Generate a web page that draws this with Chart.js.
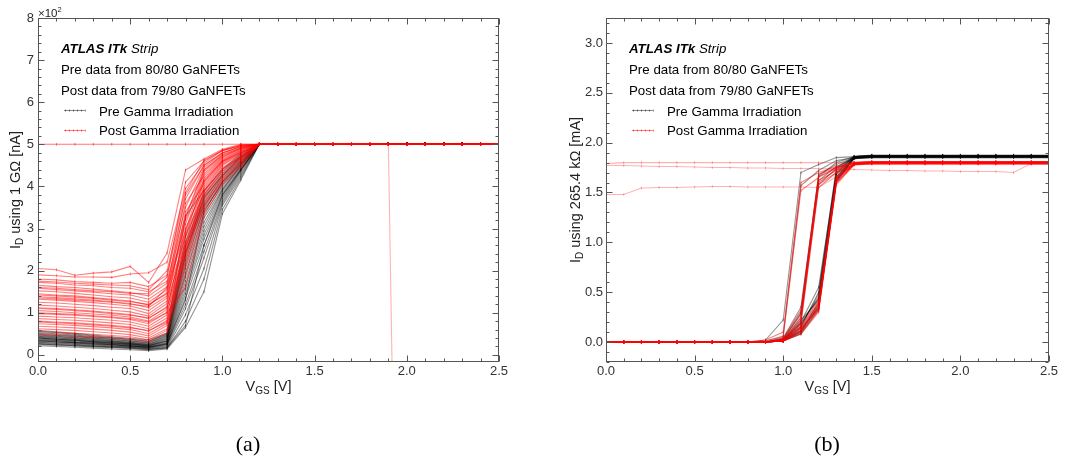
<!DOCTYPE html>
<html>
<head>
<meta charset="utf-8">
<script src="https://cdn.jsdelivr.net/npm/chart.js@4.4.0/dist/chart.umd.min.js"></script>
<style>
  html, body { margin: 0; padding: 0; background: #fff; }
  body { width: 1085px; height: 459px; position: relative; overflow: hidden; }
  canvas { position: absolute; top: 0; }
  #chart-a { left: 0; }
  #chart-b { left: 540px; }
</style>
</head>
<body>
<canvas id="chart-a" width="515" height="459"></canvas>
<canvas id="chart-b" width="525" height="459"></canvas>
<script>
// V_GS sweep points (V)
const vgs = [0, 0.1, 0.2, 0.3, 0.4, 0.5, 0.6, 0.7, 0.8, 0.9, 1.0, 1.1, 1.2, 1.3,
  1.4, 1.5, 1.6, 1.7, 1.8, 1.9, 2.0, 2.1, 2.2, 2.3, 2.4, 2.5];
const xTicks = [0, 0.5, 1.0, 1.5, 2.0, 2.5];
const yTicksA = [0, 1, 2, 3, 4, 5, 6, 7, 8];
const yTicksB = [0, 0.5, 1.0, 1.5, 2.0, 2.5, 3.0];

// (a) I_D through 1 GOhm, units of 1e2 nA. Heads = V_GS 0.0..1.2, tails = 1.3..2.5
const preHeadsA = [
  [0.22, 0.20, 0.18, 0.16, 0.14, 0.12, 0.10, 0.14, 0.65, 1.50, 3.35, 4.15, 5.0],
  [0.25, 0.23, 0.21, 0.19, 0.17, 0.15, 0.12, 0.16, 0.80, 1.80, 3.45, 4.20, 5.0],
  [0.27, 0.25, 0.23, 0.21, 0.19, 0.17, 0.14, 0.18, 0.95, 2.05, 3.55, 4.25, 5.0],
  [0.29, 0.27, 0.25, 0.22, 0.20, 0.18, 0.15, 0.20, 1.10, 2.30, 3.60, 4.30, 5.0],
  [0.30, 0.28, 0.26, 0.24, 0.21, 0.19, 0.16, 0.22, 1.20, 2.45, 3.65, 4.35, 5.0],
  [0.32, 0.30, 0.28, 0.25, 0.23, 0.20, 0.17, 0.24, 1.35, 2.60, 3.70, 4.38, 5.0],
  [0.33, 0.31, 0.29, 0.26, 0.24, 0.21, 0.18, 0.25, 1.45, 2.75, 3.75, 4.40, 5.0],
  [0.35, 0.33, 0.30, 0.28, 0.25, 0.22, 0.18, 0.27, 1.55, 2.85, 3.80, 4.42, 5.0],
  [0.36, 0.34, 0.31, 0.29, 0.26, 0.23, 0.19, 0.28, 1.65, 2.95, 3.85, 4.45, 5.0],
  [0.38, 0.35, 0.33, 0.30, 0.27, 0.24, 0.20, 0.30, 1.75, 3.05, 3.90, 4.48, 5.0],
  [0.39, 0.37, 0.34, 0.31, 0.28, 0.25, 0.21, 0.32, 1.85, 3.15, 3.92, 4.50, 5.0],
  [0.41, 0.38, 0.35, 0.32, 0.29, 0.26, 0.22, 0.34, 1.95, 3.25, 3.95, 4.52, 5.0],
  [0.42, 0.40, 0.37, 0.34, 0.31, 0.27, 0.23, 0.36, 2.05, 3.35, 4.00, 4.55, 5.0],
  [0.44, 0.41, 0.38, 0.35, 0.32, 0.28, 0.24, 0.38, 2.15, 3.45, 4.05, 4.58, 5.0],
  [0.45, 0.43, 0.40, 0.37, 0.33, 0.29, 0.25, 0.40, 2.25, 3.50, 4.10, 4.60, 5.0],
  [0.47, 0.44, 0.41, 0.38, 0.34, 0.30, 0.26, 0.42, 2.35, 3.55, 4.15, 4.62, 5.0],
  [0.49, 0.46, 0.43, 0.40, 0.36, 0.32, 0.28, 0.44, 2.45, 3.60, 4.20, 4.65, 5.0],
  [0.51, 0.48, 0.45, 0.41, 0.37, 0.33, 0.29, 0.46, 2.55, 3.65, 4.25, 4.68, 5.0],
  [0.53, 0.50, 0.47, 0.43, 0.39, 0.35, 0.31, 0.48, 2.65, 3.70, 4.30, 4.72, 5.0],
  [0.56, 0.53, 0.49, 0.45, 0.41, 0.37, 0.33, 0.50, 2.80, 3.80, 4.35, 4.75, 5.0],
  [0.58, 0.55, 0.51, 0.47, 0.43, 0.39, 0.36, 0.52, 3.30, 3.90, 4.40, 4.78, 5.0],
  [0.26, 0.24, 0.22, 0.20, 0.18, 0.16, 0.13, 0.17, 0.70, 2.60, 3.80, 4.40, 5.0],
  [0.34, 0.31, 0.29, 0.27, 0.24, 0.21, 0.18, 0.26, 1.30, 3.40, 4.10, 4.55, 5.0],
  [0.40, 0.37, 0.35, 0.32, 0.29, 0.26, 0.22, 0.33, 2.40, 3.75, 4.25, 4.70, 5.0],
];
const preTailA = [5.0, 5.0, 5.0, 5.0, 5.0, 5.0, 5.02, 5.02, 5.02, 5.02, 5.02, 5.01, 5.0];

const postHeadsA = [
  [2.05, 2.02, 1.89, 1.94, 1.97, 2.10, 1.72, 2.42, 4.39, 4.65, 4.88, 5.00, 5.0],
  [1.90, 1.88, 1.85, 1.85, 1.84, 1.92, 1.95, 2.20, 3.95, 4.55, 4.85, 4.98, 5.0],
  [1.80, 1.78, 1.74, 1.72, 1.70, 1.72, 1.62, 1.90, 3.70, 4.50, 4.80, 4.95, 5.0],
  [1.72, 1.70, 1.66, 1.64, 1.60, 1.58, 1.50, 1.75, 3.50, 4.45, 4.78, 4.95, 5.0],
  [1.65, 1.62, 1.60, 1.56, 1.52, 1.48, 1.40, 1.70, 3.30, 4.40, 4.75, 4.92, 5.0],
  [1.58, 1.55, 1.52, 1.49, 1.45, 1.42, 1.32, 1.62, 3.10, 4.35, 4.72, 4.90, 5.0],
  [1.52, 1.50, 1.46, 1.42, 1.38, 1.35, 1.25, 1.55, 2.95, 4.30, 4.70, 4.90, 5.0],
  [1.45, 1.42, 1.40, 1.36, 1.32, 1.28, 1.18, 1.48, 3.60, 4.25, 4.68, 4.88, 5.0],
  [1.38, 1.36, 1.33, 1.30, 1.26, 1.22, 1.12, 1.40, 2.80, 4.20, 4.65, 4.86, 5.0],
  [1.32, 1.30, 1.27, 1.24, 1.20, 1.16, 1.05, 1.35, 3.20, 4.15, 4.62, 4.85, 5.0],
  [1.25, 1.23, 1.20, 1.17, 1.13, 1.10, 0.98, 1.28, 2.65, 4.10, 4.60, 4.82, 5.0],
  [1.18, 1.16, 1.13, 1.10, 1.06, 1.02, 0.92, 1.22, 3.40, 4.05, 4.58, 4.80, 5.0],
  [1.12, 1.10, 1.07, 1.04, 1.00, 0.96, 0.86, 1.15, 2.50, 4.00, 4.55, 4.80, 5.0],
  [1.05, 1.03, 1.00, 0.97, 0.94, 0.90, 0.80, 1.08, 3.00, 3.95, 4.52, 4.78, 5.0],
  [0.98, 0.96, 0.94, 0.91, 0.88, 0.84, 0.74, 1.02, 2.40, 3.90, 4.50, 4.75, 5.0],
  [0.92, 0.90, 0.88, 0.85, 0.82, 0.78, 0.68, 0.95, 2.85, 3.85, 4.45, 4.72, 5.0],
  [0.86, 0.84, 0.82, 0.79, 0.76, 0.72, 0.62, 0.88, 2.30, 3.80, 4.40, 4.70, 5.0],
  [0.80, 0.78, 0.76, 0.73, 0.70, 0.66, 0.56, 0.82, 2.70, 3.75, 4.35, 4.68, 5.0],
  [0.74, 0.72, 0.70, 0.67, 0.64, 0.60, 0.50, 0.75, 2.20, 3.70, 4.30, 4.65, 5.0],
  [0.68, 0.66, 0.64, 0.61, 0.58, 0.54, 0.45, 0.70, 2.60, 3.60, 4.25, 4.62, 5.0],
  [0.62, 0.60, 0.58, 0.55, 0.52, 0.48, 0.40, 0.62, 2.10, 3.50, 4.20, 4.60, 5.0],
  [0.55, 0.53, 0.51, 0.49, 0.46, 0.43, 0.36, 0.58, 2.45, 3.55, 4.15, 4.55, 5.0],
  [0.48, 0.46, 0.44, 0.42, 0.40, 0.37, 0.32, 0.52, 1.90, 3.40, 4.10, 4.50, 5.0],
  [1.60, 1.58, 1.55, 1.52, 1.50, 1.46, 1.45, 1.85, 4.10, 4.60, 4.85, 4.97, 5.0],
  [1.35, 1.33, 1.30, 1.28, 1.25, 1.20, 1.15, 1.60, 3.80, 4.50, 4.80, 4.94, 5.0],
  [1.00, 0.98, 0.96, 0.93, 0.90, 0.86, 0.78, 1.00, 1.60, 3.30, 4.05, 4.45, 5.0],
  [1.75, 1.73, 1.70, 1.68, 1.66, 1.64, 1.55, 2.00, 3.85, 4.62, 4.86, 4.97, 5.0],
  [1.42, 1.40, 1.37, 1.34, 1.30, 1.26, 1.20, 1.45, 3.25, 4.38, 4.74, 4.91, 5.0],
  [1.10, 1.08, 1.05, 1.02, 0.98, 0.94, 0.88, 1.12, 2.90, 4.12, 4.60, 4.83, 5.0],
  [0.78, 0.76, 0.74, 0.71, 0.68, 0.64, 0.58, 0.78, 2.55, 3.88, 4.42, 4.70, 5.0],
];
const postTailA = [5.0, 5.0, 5.0, 5.0, 5.0, 5.0, 5.0, 5.0, 5.0, 5.0, 5.0, 5.0, 5.0];
// devices stuck at the 5e2 nA ceiling; one drops out of range after 1.9 V
const postStuckA = [
  [5, 5, 5, 5, 5, 5, 5, 5, 5, 5, 5, 5, 5, 5, 5, 5, 5, 5, 5, 5, -21, -21, -21, -21, -21, -21],
  [5, 5, 5, 5, 5, 5, 5, 5, 5, 5, 5, 5, 5, 5, 5, 5, 5, 5, 5, 5, 5, 5, 5, 5, 5, 5],
];

// (b) I_D through 265.4 kOhm, mA. Lead = V_GS 0.0..0.8, rows = 0.9..2.5
const leadB = [0, 0, 0, 0, 0, 0, 0, 0, 0];
const preRowsB = [
  [0.02, 0.22, 1.70, 1.78, 1.85, 1.86, 1.87, 1.87, 1.87, 1.87, 1.87, 1.87, 1.87, 1.87, 1.87, 1.87, 1.87],
  [0.01, 0.06, 1.57, 1.72, 1.82, 1.85, 1.86, 1.86, 1.86, 1.86, 1.86, 1.86, 1.86, 1.86, 1.86, 1.86, 1.86],
  [0.00, 0.03, 0.30, 1.68, 1.78, 1.85, 1.86, 1.86, 1.86, 1.86, 1.86, 1.86, 1.86, 1.86, 1.86, 1.86, 1.86],
  [0.00, 0.02, 0.25, 1.62, 1.76, 1.84, 1.85, 1.85, 1.85, 1.85, 1.85, 1.85, 1.85, 1.85, 1.85, 1.85, 1.85],
  [0.00, 0.04, 0.35, 1.66, 1.80, 1.86, 1.87, 1.87, 1.87, 1.87, 1.87, 1.87, 1.87, 1.87, 1.87, 1.87, 1.87],
  [0.00, 0.01, 0.10, 0.40, 1.65, 1.85, 1.86, 1.86, 1.86, 1.86, 1.86, 1.86, 1.86, 1.86, 1.86, 1.86, 1.86],
  [0.00, 0.01, 0.15, 0.50, 1.70, 1.86, 1.87, 1.87, 1.87, 1.87, 1.87, 1.87, 1.87, 1.87, 1.87, 1.87, 1.87],
  [0.00, 0.02, 0.18, 0.45, 1.62, 1.84, 1.86, 1.86, 1.86, 1.86, 1.86, 1.86, 1.86, 1.86, 1.86, 1.86, 1.86],
  [0.00, 0.01, 0.12, 0.35, 1.60, 1.85, 1.86, 1.86, 1.86, 1.86, 1.86, 1.86, 1.86, 1.86, 1.86, 1.86, 1.86],
  [0.00, 0.01, 0.20, 0.55, 1.72, 1.86, 1.87, 1.87, 1.87, 1.87, 1.87, 1.87, 1.87, 1.87, 1.87, 1.87, 1.87],
  [0.00, 0.02, 0.22, 0.42, 1.68, 1.85, 1.86, 1.86, 1.86, 1.86, 1.86, 1.86, 1.86, 1.86, 1.86, 1.86, 1.86],
  [0.00, 0.01, 0.08, 0.32, 1.63, 1.84, 1.85, 1.85, 1.85, 1.85, 1.85, 1.85, 1.85, 1.85, 1.85, 1.85, 1.85],
  [0.00, 0.01, 0.14, 0.38, 1.66, 1.85, 1.86, 1.86, 1.86, 1.86, 1.86, 1.86, 1.86, 1.86, 1.86, 1.86, 1.86],
  [0.00, 0.03, 0.28, 1.58, 1.74, 1.85, 1.86, 1.86, 1.86, 1.86, 1.86, 1.86, 1.86, 1.86, 1.86, 1.86, 1.86],
  [0.00, 0.02, 0.16, 0.48, 1.75, 1.86, 1.87, 1.87, 1.87, 1.87, 1.87, 1.87, 1.87, 1.87, 1.87, 1.87, 1.87],
  [0.00, 0.01, 0.11, 0.36, 1.64, 1.85, 1.86, 1.86, 1.86, 1.86, 1.86, 1.86, 1.86, 1.86, 1.86, 1.86, 1.86],
  [0.00, 0.02, 0.19, 0.44, 1.69, 1.86, 1.875, 1.875, 1.875, 1.875, 1.875, 1.875, 1.875, 1.875, 1.875, 1.875, 1.875],
  [0.00, 0.01, 0.09, 0.34, 1.61, 1.84, 1.855, 1.855, 1.855, 1.855, 1.855, 1.855, 1.855, 1.855, 1.855, 1.855, 1.855],
];
const postRowsB = [
  [0.02, 0.10, 1.60, 1.70, 1.76, 1.79, 1.80, 1.80, 1.80, 1.80, 1.80, 1.80, 1.80, 1.80, 1.80, 1.80, 1.80],
  [0.01, 0.05, 1.52, 1.65, 1.75, 1.79, 1.80, 1.80, 1.80, 1.80, 1.80, 1.80, 1.80, 1.80, 1.80, 1.80, 1.80],
  [0.00, 0.02, 0.22, 1.62, 1.72, 1.79, 1.80, 1.80, 1.80, 1.80, 1.80, 1.80, 1.80, 1.80, 1.80, 1.80, 1.80],
  [0.00, 0.03, 0.28, 1.66, 1.74, 1.80, 1.81, 1.81, 1.81, 1.81, 1.81, 1.81, 1.81, 1.81, 1.81, 1.81, 1.81],
  [0.00, 0.02, 0.18, 1.55, 1.70, 1.78, 1.79, 1.79, 1.79, 1.79, 1.79, 1.79, 1.79, 1.79, 1.79, 1.79, 1.79],
  [0.00, 0.04, 0.32, 1.68, 1.75, 1.80, 1.81, 1.81, 1.81, 1.81, 1.81, 1.81, 1.81, 1.81, 1.81, 1.81, 1.81],
  [0.00, 0.01, 0.10, 0.32, 1.60, 1.78, 1.80, 1.80, 1.80, 1.80, 1.80, 1.80, 1.80, 1.80, 1.80, 1.80, 1.80],
  [0.00, 0.01, 0.12, 0.36, 1.62, 1.79, 1.80, 1.80, 1.80, 1.80, 1.80, 1.80, 1.80, 1.80, 1.80, 1.80, 1.80],
  [0.00, 0.02, 0.15, 0.40, 1.65, 1.79, 1.80, 1.80, 1.80, 1.80, 1.80, 1.80, 1.80, 1.80, 1.80, 1.80, 1.80],
  [0.00, 0.01, 0.08, 0.30, 1.58, 1.78, 1.79, 1.79, 1.79, 1.79, 1.79, 1.79, 1.79, 1.79, 1.79, 1.79, 1.79],
  [0.00, 0.01, 0.14, 0.34, 1.63, 1.80, 1.81, 1.81, 1.81, 1.81, 1.81, 1.81, 1.81, 1.81, 1.81, 1.81, 1.81],
  [0.00, 0.01, 0.11, 0.38, 1.66, 1.79, 1.80, 1.80, 1.80, 1.80, 1.80, 1.80, 1.80, 1.80, 1.80, 1.80, 1.80],
  [0.00, 0.02, 0.20, 1.58, 1.70, 1.78, 1.80, 1.80, 1.80, 1.80, 1.80, 1.80, 1.80, 1.80, 1.80, 1.80, 1.80],
  [0.00, 0.01, 0.13, 0.33, 1.60, 1.78, 1.80, 1.80, 1.80, 1.80, 1.80, 1.80, 1.80, 1.80, 1.80, 1.80, 1.80],
  [0.00, 0.01, 0.16, 0.42, 1.64, 1.78, 1.785, 1.785, 1.785, 1.785, 1.785, 1.785, 1.785, 1.785, 1.785, 1.785, 1.785],
  [0.00, 0.02, 0.24, 1.60, 1.73, 1.80, 1.805, 1.805, 1.805, 1.805, 1.805, 1.805, 1.805, 1.805, 1.805, 1.805, 1.805],
];
// post devices already conducting at V_GS = 0 (full sweep 0.0..2.5)
const postOnB = [
  [1.79, 1.80, 1.80, 1.80, 1.80, 1.80, 1.80, 1.80, 1.80, 1.80, 1.80, 1.80, 1.80,
   1.80, 1.80, 1.80, 1.80, 1.80, 1.80, 1.80, 1.80, 1.80, 1.80, 1.80, 1.80, 1.80],
  [1.77, 1.77, 1.765, 1.76, 1.76, 1.755, 1.75, 1.75, 1.745, 1.745, 1.74, 1.74, 1.74,
   1.735, 1.73, 1.725, 1.72, 1.72, 1.715, 1.715, 1.71, 1.71, 1.71, 1.70, 1.79, 1.79],
  [1.48, 1.48, 1.545, 1.55, 1.55, 1.555, 1.56, 1.56, 1.555, 1.555, 1.555, 1.555, 1.55,
   1.66, 1.77, 1.79, 1.79, 1.79, 1.79, 1.79, 1.79, 1.79, 1.79, 1.79, 1.79, 1.79],
];

const BLACK = "rgba(0,0,0,0.42)";
const RED = "rgba(255,0,0,0.5)";
const RED_LIGHT = "rgba(255,0,0,0.3)";
const SANS = "'Liberation Sans', Arial, sans-serif";
const INK = "#222";

function points(ys) {
  return ys.map((y, i) => ({ x: vgs[i], y }));
}

function curve(ys, color, order) {
  return {
    data: points(ys),
    borderColor: color,
    borderWidth: 1.1,
    pointStyle: "line",
    pointRotation: 90,
    pointRadius: 1.4,
    pointBorderWidth: 1,
    pointBorderColor: color,
    pointBackgroundColor: color,
    tension: 0,
    fill: false,
    order,
  };
}

// draw text made of runs (for subscripts / mixed bold-italic)
function rich(ctx, parts, x, y, align) {
  let total = 0;
  parts.forEach((p) => {
    ctx.font = p.font;
    p.w = ctx.measureText(p.t).width;
    total += p.w;
  });
  let cx = align === "center" ? x - total / 2 : x;
  ctx.textAlign = "left";
  ctx.textBaseline = "alphabetic";
  parts.forEach((p) => {
    ctx.font = p.font;
    ctx.fillText(p.t, cx, y + (p.dy || 0));
    cx += p.w;
  });
}

// frame with inward ticks on all four sides
function framePlugin(yMinor, yMajorEvery, yKFrom, yKTo) {
  return {
    id: "frame",
    afterDatasetsDraw(chart) {
      const { ctx, chartArea: a, scales } = chart;
      const L = Math.round(a.left) + 0.5, R = Math.round(a.right) - 0.5;
      const T = Math.round(a.top) + 0.5, B = Math.round(a.bottom) - 0.5;
      ctx.save();
      ctx.strokeStyle = "#555";
      ctx.lineWidth = 1;
      ctx.strokeRect(L, T, R - L, B - T);
      ctx.beginPath();
      for (let k = 0; k <= 25; k++) {
        const px = Math.round(scales.x.getPixelForValue(k / 10)) + 0.5;
        const len = k % 5 === 0 ? 6 : 3;
        ctx.moveTo(px, B); ctx.lineTo(px, B - len);
        ctx.moveTo(px, T); ctx.lineTo(px, T + len);
      }
      for (let k = yKFrom; k <= yKTo; k++) {
        const v = k * yMinor;
        if (v < scales.y.min || v > scales.y.max) continue;
        const py = Math.round(scales.y.getPixelForValue(v)) + 0.5;
        const len = k % yMajorEvery === 0 ? 6 : 3;
        ctx.moveTo(L, py); ctx.lineTo(L + len, py);
        ctx.moveTo(R, py); ctx.lineTo(R - len, py);
      }
      ctx.stroke();
      ctx.restore();
    },
  };
}

function textPlugin(cfg) {
  return {
    id: "labels",
    afterDraw(chart) {
      const { ctx, chartArea: a } = chart;
      const tx = a.left + 23;
      const f = "13.3px " + SANS;
      ctx.save();
      ctx.fillStyle = "#000";
      rich(ctx, [
        { t: "ATLAS ITk", font: "italic bold " + f },
        { t: " Strip", font: "italic " + f },
      ], tx, 53, "left");
      rich(ctx, [{ t: "Pre data from 80/80 GaNFETs", font: f }], tx, 74, "left");
      rich(ctx, [{ t: "Post data from 79/80 GaNFETs", font: f }], tx, 95, "left");
      [["Pre Gamma Irradiation", "rgba(0,0,0,0.45)", 115.5],
       ["Post Gamma Irradiation", "rgba(255,0,0,0.5)", 135]].forEach(([label, col, by]) => {
        const ly = Math.round(by - 5.5) + 0.5;
        const x0 = Math.round(tx + 3), x1 = Math.round(tx + 24);
        ctx.strokeStyle = col;
        ctx.lineWidth = 1;
        ctx.beginPath();
        ctx.moveTo(x0, ly); ctx.lineTo(x1, ly);
        for (let px = x0 + 1; px <= x1; px += 4) {
          ctx.moveTo(px + 0.5, ly - 1); ctx.lineTo(px + 0.5, ly + 1);
        }
        ctx.stroke();
        ctx.fillStyle = "#000";
        rich(ctx, [{ t: label, font: f }], tx + 38, by, "left");
      });

      // axis titles
      ctx.fillStyle = INK;
      const cxPlot = (a.left + a.right) / 2;
      rich(ctx, [
        { t: "V", font: "14.5px " + SANS },
        { t: "GS", font: "10px " + SANS, dy: 3 },
        { t: " [V]", font: "14.5px " + SANS },
      ], cxPlot, 391, "center");
      ctx.save();
      ctx.translate(cfg.yTitleX, (a.top + a.bottom) / 2);
      ctx.rotate(-Math.PI / 2);
      rich(ctx, [
        { t: "I", font: "14.5px " + SANS },
        { t: "D", font: "10px " + SANS, dy: 3 },
        { t: cfg.yTitle, font: "14.5px " + SANS },
      ], 0, 0, "center");
      ctx.restore();

      if (cfg.exponent) {
        rich(ctx, [
          { t: "\u00d710", font: "11.5px " + SANS },
          { t: "2", font: "7.5px " + SANS, dy: -5 },
        ], a.left, 16.7, "left");
      }

      ctx.fillStyle = "#000";
      rich(ctx, [{ t: cfg.caption, font: "22px 'Liberation Serif', 'Times New Roman', serif" }],
        cfg.captionX, 451, "center");
      ctx.restore();
    },
  };
}

function scalesFor(yMin, yMax, yTicks, yWidth, yFmt, yPad) {
  const tickFont = { family: SANS, size: 13 };
  return {
    x: {
      type: "linear",
      min: 0,
      max: 2.5,
      afterBuildTicks: (s) => { s.ticks = xTicks.map((v) => ({ value: v })); },
      afterFit: (s) => { s.height = 97; },
      ticks: { callback: (v) => Number(v).toFixed(1), font: tickFont, color: "#333", padding: 2, maxRotation: 0 },
      grid: { display: false, drawTicks: false },
      border: { display: false },
    },
    y: {
      type: "linear",
      min: yMin,
      max: yMax,
      afterBuildTicks: (s) => { s.ticks = yTicks.map((v) => ({ value: v })); },
      afterFit: (s) => { s.width = yWidth; },
      ticks: { callback: yFmt, font: tickFont, color: "#333", padding: yPad },
      grid: { display: false, drawTicks: false },
      border: { display: false },
    },
  };
}

const baseOptions = {
  responsive: false,
  animation: false,
  events: [],
  plugins: { legend: { display: false }, tooltip: { enabled: false } },
};

// panel (a)
const dataA = [];
preHeadsA.forEach((h) => dataA.push(curve(h.concat(preTailA), BLACK, 2)));
postHeadsA.forEach((h) => dataA.push(curve(h.concat(postTailA), RED, 1)));
postStuckA.forEach((r) => dataA.push(curve(r, RED_LIGHT, 1)));

new Chart(document.getElementById("chart-a"), {
  type: "line",
  data: { datasets: dataA },
  options: {
    ...baseOptions,
    layout: { padding: { top: 18, right: 16, left: 0, bottom: 0 } },
    scales: scalesFor(-0.17, 8, yTicksA, 38, (v) => String(v), 4),
  },
  plugins: [
    framePlugin(0.2, 5, 0, 40),
    textPlugin({ yTitle: " using 1 G\u03a9 [nA]", yTitleX: 20, exponent: true, caption: "(a)", captionX: 248 }),
  ],
});

// panel (b)
const dataB = [];
preRowsB.forEach((r) => dataB.push(curve(leadB.concat(r), BLACK, 2)));
postRowsB.forEach((r) => dataB.push(curve(leadB.concat(r), RED, 1)));
postOnB.forEach((r) => dataB.push(curve(r, RED_LIGHT, 1)));

new Chart(document.getElementById("chart-b"), {
  type: "line",
  data: { datasets: dataB },
  options: {
    ...baseOptions,
    layout: { padding: { top: 18, right: 16, left: 0, bottom: 0 } },
    scales: scalesFor(-0.2, 3.25, yTicksB, 66, (v) => Number(v).toFixed(1), 3),
  },
  plugins: [
    framePlugin(0.1, 5, -2, 32),
    textPlugin({ yTitle: " using 265.4 k\u03a9 [mA]", yTitleX: 40, exponent: false, caption: "(b)", captionX: 287 }),
  ],
});
</script>
</body>
</html>
